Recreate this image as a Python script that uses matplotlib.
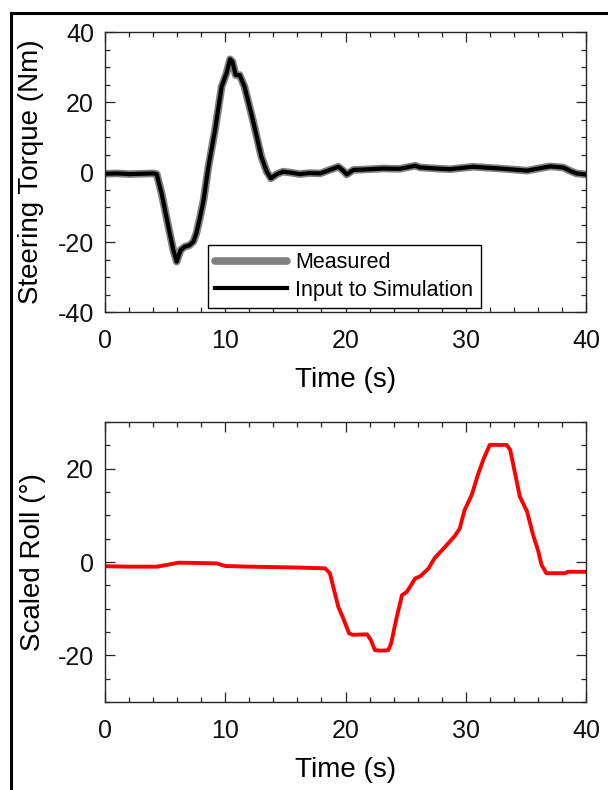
import numpy as np
import matplotlib
matplotlib.use('Agg')
import matplotlib.pyplot as plt
from matplotlib.ticker import MultipleLocator
from matplotlib.lines import Line2D

plt.rcParams['font.family'] = ['Liberation Sans', 'DejaVu Sans']
plt.rcParams['axes.unicode_minus'] = False  # plain hyphen like the original

# steering torque (Nm)
torque_t = [0, 1, 2, 3, 4, 4.3, 4.7, 5.27, 5.68, 5.96, 6.29, 6.65, 7.0, 7.35, 7.6, 7.9,
            8.2, 8.6, 9.15, 9.7, 10.1, 10.4, 10.6, 10.87, 11.2, 11.6, 12.3, 13.0, 13.45,
            13.8, 14.3, 14.8, 15.5, 16.2, 17.0, 17.9, 18.85, 19.4, 19.8, 20.1, 20.65,
            21.5, 23.1, 24.5, 25.8, 26.2, 27.5, 28.7, 30.6, 32.8, 35.1, 37.0, 38.1,
            38.7, 39.2, 40]
torque_meas = [-0.5, -0.4, -0.6, -0.5, -0.4, -0.6, -6, -15.6, -22.3, -25.6, -22.3, -21.3,
               -21.0, -19.9, -17.5, -13, -8, 1.5, 12, 24.4, 28.2, 32.2, 31.5, 27.7, 27.7,
               24.4, 14.8, 4.4, 0.1, -1.8, -0.6, 0.1, -0.2, -0.6, -0.3, -0.4, 0.8, 1.5,
               0.4, -0.7, 0.6, 0.7, 1.0, 0.9, 1.8, 1.3, 1.0, 0.8, 1.5, 1.0, 0.4, 1.6, 1.3,
               0.3, -0.4, -0.7]
torque_input = torque_meas

# scaled roll (deg), bottom panel
roll_t = [0, 2, 4.3, 5.2, 6.1, 7.5, 9.3, 10, 12, 15.4, 18.3, 18.7, 19.4, 19.8, 20.3,
          20.6, 21.8, 22.1, 22.45, 23.0, 23.56, 23.8, 24.2, 24.7, 25.1, 25.3, 25.8,
          26.2, 26.9, 27.4, 28.3, 29.1, 29.5, 29.9, 30.5, 31.0, 31.5, 32.0, 33.4, 33.7,
          34.1, 34.5, 35.1, 35.6, 36.0, 36.3, 36.7, 38.25, 38.5, 39.9, 40]
roll = [-0.9, -1.0, -1.0, -0.6, -0.15, -0.2, -0.3, -0.86, -1.0, -1.15, -1.36, -2.4,
        -9.6, -12, -15.3, -15.6, -15.5, -16.7, -18.9, -19.0, -18.9, -17.4, -12.5, -7.1,
        -6.4, -5.6, -3.5, -3.1, -1.4, 0.8, 3.3, 5.6, 7.2, 11.1, 14.4, 18.6, 22.2, 25.1,
        25.1, 24.0, 19.0, 14.0, 10.8, 5.8, 2.6, -0.6, -2.4, -2.4, -2.1, -2.1, -2.1]

W, H = 608, 790
fig = plt.figure(figsize=(W / 100, H / 100), dpi=100)

ax_col = '#262626'


def style(ax, ylim, ymajor):
    ax.set_xlim(0, 40)
    ax.set_ylim(*ylim)
    ax.xaxis.set_major_locator(MultipleLocator(10))
    ax.xaxis.set_minor_locator(MultipleLocator(2))
    ax.set_yticks(ymajor)
    ax.yaxis.set_minor_locator(MultipleLocator(5))
    ax.tick_params(which='both', direction='in', top=True, right=True,
                   colors=ax_col, labelcolor='#111111', labelsize=18, width=0.9)
    ax.tick_params(which='major', length=7)
    ax.tick_params(which='minor', length=3.5)
    ax.tick_params(axis='x', pad=12)
    ax.tick_params(axis='y', pad=8)
    for s in ax.spines.values():
        s.set_color(ax_col)
        s.set_linewidth(1.0)
    ax.set_xlabel('Time (s)', fontsize=20, labelpad=10.5)


# top panel
ax1 = fig.add_axes([105 / W, 1 - 312 / H, 481 / W, 280 / H])
ax1.plot(torque_t, torque_meas, color='#808080', lw=5.5, solid_joinstyle='round',
         solid_capstyle='round', label='Measured')
ax1.plot(torque_t, torque_input, color='black', lw=3.0, solid_joinstyle='round',
         label='Input to Simulation')
style(ax1, (-40, 40), [-40, -20, 0, 20, 40])
ax1.set_ylabel('Steering Torque (Nm)', fontsize=20)
ax1.yaxis.set_label_coords(-0.127, 0.5)
leg = ax1.legend(loc='lower left', bbox_to_anchor=(0.214, 0.014), borderaxespad=0,
                 fontsize=15.5, fancybox=False, framealpha=1, edgecolor='black',
                 handlelength=3.3, handletextpad=0.4, borderpad=0.35, labelspacing=0.3)
leg.get_frame().set_linewidth(1.0)

# bottom panel
ax2 = fig.add_axes([105 / W, 1 - 702 / H, 481 / W, 280 / H])
ax2.plot(roll_t, roll, color='#ff0000', lw=2.8, solid_joinstyle='round')
style(ax2, (-30, 30), [-20, 0, 20])
ax2.set_ylabel('Scaled Roll (°)', fontsize=20)
ax2.yaxis.set_label_coords(-0.122, 0.5)

# outer frame (cut off on the right and bottom)
fig.add_artist(Line2D([11 / W, 11 / W], [0, 1 - 13 / H], transform=fig.transFigure,
                      color='black', lw=2.2, solid_capstyle='projecting'))
fig.add_artist(Line2D([11 / W, 1], [1 - 13 / H, 1 - 13 / H], transform=fig.transFigure,
                      color='black', lw=2.2, solid_capstyle='projecting'))

fig.savefig('out.png', dpi=100)
